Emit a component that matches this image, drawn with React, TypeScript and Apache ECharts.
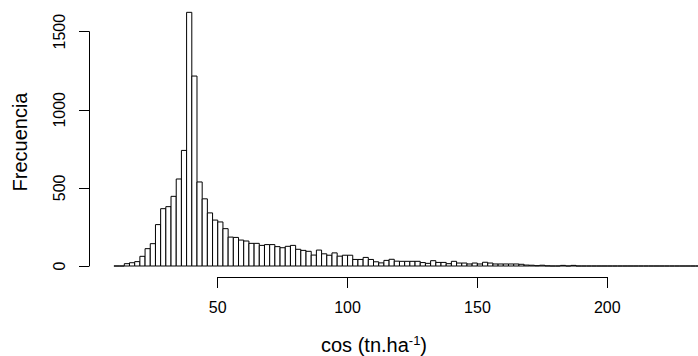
import React, { useEffect, useRef } from "react";
import * as echarts from "echarts";

// Histogram breaks: bins of width 2 starting at 10
const BIN_START = 10;
const BIN_WIDTH = 2;
const counts = [
  0, 0, 15, 21, 28, 62, 111, 143, 265, 367,
  380, 446, 557, 740, 1624, 1216, 538, 430, 340, 294,
  282, 239, 185, 183, 166, 160, 145, 145, 132, 137,
  137, 124, 117, 126, 132, 107, 100, 94, 70, 102,
  78, 69, 84, 63, 69, 69, 42, 42, 55, 42,
  27, 20, 36, 43, 31, 30, 30, 30, 30, 22,
  17, 34, 23, 23, 15, 30, 19, 19, 13, 19,
  13, 24, 19, 13, 13, 13, 13, 13, 11, 6,
  5, 2, 5, 1, 0, 0, 4, 0, 4, 0,
  0, 0, 0, 0, 0, 0, 0, 0, 0, 0,
  0, 0, 0, 0, 0, 0, 0, 0, 0, 0,
  0, 0, 0, 0, 0, 0, 0, 0, 0, 0,
];
const yTicks = [0, 500, 1000, 1500];
const xTicks = [50, 100, 150, 200];
const yTitle = "Frecuencia";

const FONT = "'Liberation Sans', Arial, sans-serif";

export default function App() {
  const ref = useRef<HTMLDivElement>(null);
  useEffect(() => {
    if (!ref.current) return;
    const chart = echarts.init(ref.current, null, { renderer: "svg" });
    const data = counts.map((c, i) => [
      BIN_START + i * BIN_WIDTH,
      BIN_START + (i + 1) * BIN_WIDTH,
      c,
    ]);
    chart.setOption({
      animation: false,
      backgroundColor: "#ffffff",
      grid: [
        { left: 89, right: 0, top: 31.7, bottom: 90 },
        { left: 217.7, right: 90.7, top: 100, bottom: 79 },
      ],
      xAxis: [
        { gridIndex: 0, type: "value", min: 0.4, max: 235, show: false },
        {
          gridIndex: 1,
          type: "value",
          min: xTicks[0],
          max: xTicks[xTicks.length - 1],
          interval: 50,
          axisLine: { show: true, lineStyle: { color: "#000", width: 1 } },
          axisTick: { show: true, length: 11, lineStyle: { color: "#000", width: 1 } },
          axisLabel: {
            fontSize: 16,
            color: "#000",
            fontFamily: FONT,
            margin: 22,
            formatter: (v: number) => String(v),
          },
          splitLine: { show: false },
        },
      ],
      yAxis: [
        {
          gridIndex: 0,
          type: "value",
          min: yTicks[0],
          max: yTicks[yTicks.length - 1],
          interval: 500,
          axisLine: { show: true, lineStyle: { color: "#000", width: 1 } },
          axisTick: { show: true, length: 10, lineStyle: { color: "#000", width: 1 } },
          axisLabel: {
            fontSize: 16,
            color: "#000",
            fontFamily: FONT,
            rotate: 90,
            margin: 22,
            formatter: (v: number) => String(v),
          },
          splitLine: { show: false },
        },
        { gridIndex: 1, type: "value", show: false },
      ],
      series: [
        {
          type: "custom",
          xAxisIndex: 0,
          yAxisIndex: 0,
          clip: false,
          data,
          renderItem: (params: any, api: any) => {
            const p0 = api.coord([api.value(0), 0]);
            const p1 = api.coord([api.value(1), api.value(2)]);
            return {
              type: "rect",
              shape: { x: p0[0], y: p1[1], width: p1[0] - p0[0], height: p0[1] - p1[1] },
              style: { fill: "#ffffff", stroke: "#000000", lineWidth: 1 },
            };
          },
        },
      ],
      graphic: [
        {
          type: "text",
          x: 20,
          y: 142,
          rotation: Math.PI / 2,
          style: {
            text: yTitle,
            fontSize: 20,
            fontFamily: FONT,
            fill: "#000",
            align: "center",
            verticalAlign: "middle",
          },
        },
        {
          type: "text",
          x: 374,
          y: 345,
          style: {
            text: "{a|cos (tn.ha}{s|-1}{a|)}",
            align: "center",
            verticalAlign: "middle",
            rich: {
              a: { fontSize: 20, fontFamily: FONT, fill: "#000", lineHeight: 24 },
              s: { fontSize: 13, fontFamily: FONT, fill: "#000", padding: [0, 0, 9, 0] },
            },
          },
        },
      ],
    });
    return () => chart.dispose();
  }, []);
  return (
    <div
      ref={ref}
      style={{ position: "fixed", left: 0, top: 0, width: 698, height: 356, background: "#fff" }}
    />
  );
}
